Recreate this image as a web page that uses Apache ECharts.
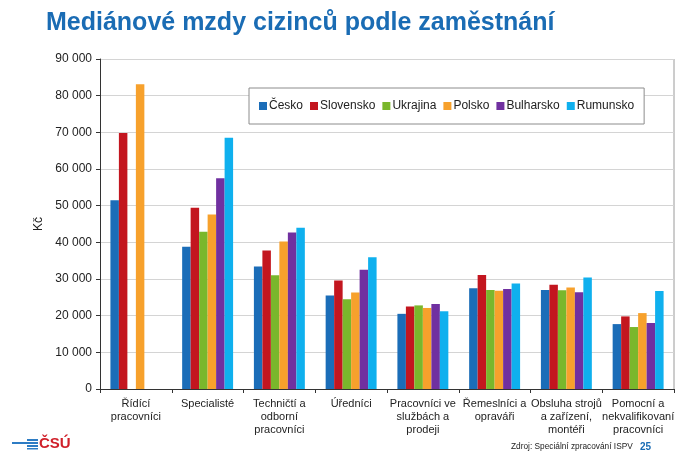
<!DOCTYPE html>
<html><head><meta charset="utf-8">
<script src="https://cdn.jsdelivr.net/npm/echarts@6/dist/echarts.min.js"></script>
<style>html,body{margin:0;padding:0;background:#fff}#c{width:682px;height:468px}</style>
</head><body><div id="c"></div>
<script>
const categories = ['Řídící\npracovníci','Specialisté','Techničtí a\nodborní\npracovníci','Úředníci','Pracovníci ve\nslužbách a\nprodeji','Řemeslníci a\nopraváři','Obsluha strojů\na zařízení,\nmontéři','Pomocní a\nnekvalifikovaní\npracovníci'];
const cesko      = [51500, 38800, 33400, 25500, 20500, 27500, 27000, 17700];
const slovensko  = [69800, 49400, 37800, 29600, 22500, 31100, 28400, 19800];
const ukrajina   = [null,  42900, 31000, 24500, 22800, 27000, 26900, 16900];
const polsko     = [83100, 47600, 40200, 26300, 22100, 26800, 27700, 20700];
const bulharsko  = [null,  57500, 42700, 32500, 23200, 27300, 26400, 18000];
const rumunsko   = [null,  68500, 44000, 35900, 21200, 28800, 30400, 26700];
const seriesNames = ['Česko','Slovensko','Ukrajina','Polsko','Bulharsko','Rumunsko'];
const seriesData = [cesko, slovensko, ukrajina, polsko, bulharsko, rumunsko];
const colors = ['#1b6db8','#c3161f','#7ab72c','#f7a12c','#7030a0','#0fb0ee'];
const yTicks = [0, 10000, 20000, 30000, 40000, 50000, 60000, 70000, 80000, 90000];

const FONT = 'Liberation Sans, Arial, sans-serif';
const chart = echarts.init(document.getElementById('c'), null, {renderer:'canvas'});
chart.setOption({
  animation:false,
  textStyle:{fontFamily:FONT},
  color: colors,
  title:{text:'Mediánové mzdy cizinců podle zaměstnání', left:41, top:6,
    textStyle:{fontFamily:FONT, fontSize:25, fontWeight:'bold', color:'#1a6cb4'}},
  legend:{data:seriesNames, left:249, top:88, width:390, height:37,
    padding:[12,10,12,10], borderColor:'#8c8c8c', borderWidth:1, backgroundColor:'#fff',
    itemWidth:8, itemHeight:8, itemGap:7, icon:'rect',
    textStyle:{fontFamily:FONT, fontSize:12, color:'#222', padding:[0,0,0,-3]}},
  grid:{left:100, right:8, top:59, bottom:79},
  xAxis:{type:'category', data:categories,
    axisLine:{lineStyle:{color:'#333'}},
    axisTick:{show:true, length:4, lineStyle:{color:'#333'}},
    axisLabel:{interval:0, fontFamily:FONT, fontSize:11, color:'#222', lineHeight:13, margin:8}},
  yAxis:{type:'value', min:0, max:90000, interval:10000,
    name:'Kč', nameLocation:'middle', nameRotate:90, nameGap:48,
    nameTextStyle:{fontFamily:FONT, fontSize:12, color:'#222'},
    axisLine:{show:true, lineStyle:{color:'#333'}},
    axisTick:{show:true, length:4, lineStyle:{color:'#333'}},
    splitLine:{lineStyle:{color:'#d4d4d4'}},
    axisLabel:{fontFamily:FONT, fontSize:12, color:'#222', margin:8,
      formatter:v => yTicks.includes(v) ? (v===0?'0':String(v/1000)+' 000') : ''}},
  series: seriesNames.map((n,i)=>({name:n, type:'bar', data:seriesData[i],
    barGap:'0%', barCategoryGap:'29%', itemStyle:{color:colors[i]}})),
  graphic:[
    {type:'line', shape:{x1:674,y1:59,x2:674,y2:389}, style:{stroke:'#9a9a9a', lineWidth:1}},
    {type:'rect', shape:{x:12,y:442,width:26,height:2}, style:{fill:'#2d7cc4'}},
    {type:'rect', shape:{x:27,y:439,width:11,height:2}, style:{fill:'#2d7cc4'}},
    {type:'rect', shape:{x:27,y:445,width:11,height:2}, style:{fill:'#2d7cc4'}},
    {type:'rect', shape:{x:27,y:448,width:11,height:1.5}, style:{fill:'#2d7cc4'}},
    {type:'text', left:39, top:436, style:{text:'ČSÚ', fill:'#d0202a', font:'bold 15px '+FONT}},
    {type:'text', left:511, top:443, style:{text:'Zdroj: Speciální zpracování ISPV', fill:'#222', font:'8.3px '+FONT}},
    {type:'text', left:640, top:442, style:{text:'25', fill:'#1a6cb4', font:'bold 10px '+FONT}}
  ]
});
</script></body></html>
